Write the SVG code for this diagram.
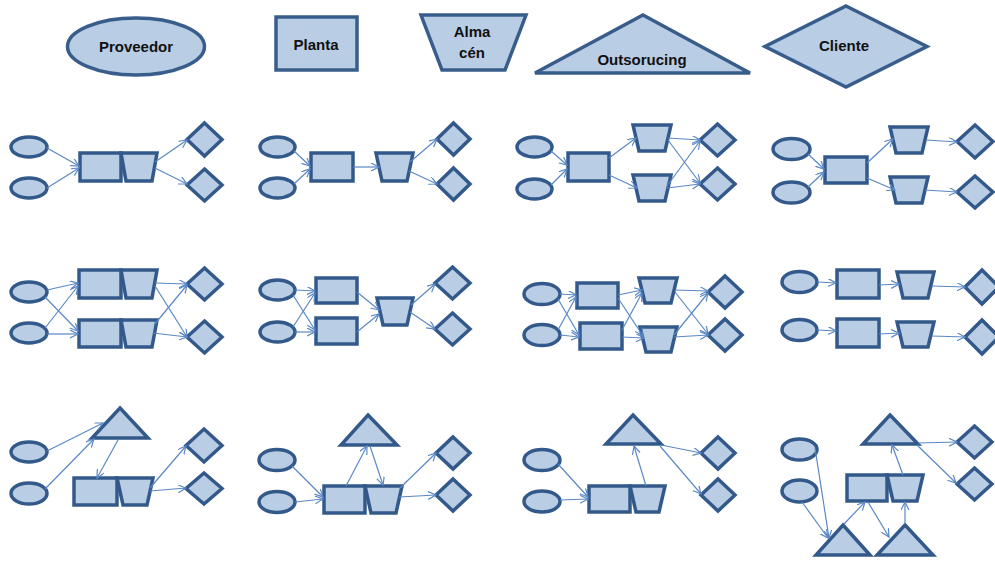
<svg xmlns="http://www.w3.org/2000/svg" width="995" height="561" viewBox="0 0 995 561">
<style>
.s{fill:#b9cde5;stroke:#33598a;stroke-width:3.5;stroke-linejoin:miter}
.L{fill:#b9cde5;stroke:#385d8a;stroke-width:3.5}
.t{font-family:"Liberation Sans",Arial,sans-serif;font-weight:bold;font-size:15px;fill:#111;text-anchor:middle}
.c line{stroke:#5a88c6;stroke-width:1.2;marker-end:url(#a)}
</style>
<defs>
<marker id="a" markerWidth="10" markerHeight="10" refX="8" refY="4" orient="auto" markerUnits="userSpaceOnUse"><path d="M0,0 L8,4 L0,8" fill="none" stroke="#5a88c6" stroke-width="1.2"/></marker>
</defs>
<rect width="995" height="561" fill="#fff"/>

<!-- Legend -->
<g id="leg-proveedor"><ellipse class="L" cx="136" cy="46.5" rx="68.5" ry="28.5"/><text class="t" x="136" y="52">Proveedor</text></g>
<g id="leg-planta"><rect class="L" x="276" y="17" width="81" height="53"/><text class="t" x="316" y="50">Planta</text></g>
<g id="leg-almacen"><polygon class="L" points="421,15 526,15 505,70 442,70"/><text class="t" x="472" y="37">Alma</text><text class="t" x="472" y="58">cén</text></g>
<g id="leg-outsourcing"><polygon class="L" points="643,15 750,73 535,73"/><text class="t" x="642" y="65">Outsorucing</text></g>
<g id="leg-cliente"><polygon class="L" points="846,6 927,46.5 846,87 765,46.5"/><text class="t" x="844" y="51">Cliente</text></g>

<!-- D1 -->
<g id="d1-p1"><ellipse class="s" cx="29" cy="147" rx="18" ry="10"/></g>
<g id="d1-p2"><ellipse class="s" cx="29" cy="188" rx="18" ry="10"/></g>
<g id="d1-pl"><rect class="s" x="80" y="153" width="41" height="28"/></g>
<g id="d1-al"><polygon class="s" points="121,153 157,153 152,181 126,181"/></g>
<g id="d1-c1"><polygon class="s" points="204.5,123 222,139.5 204.5,156 187,139.5"/></g>
<g id="d1-c2"><polygon class="s" points="204.5,169 222,185 204.5,201 187,185"/></g>

<!-- D2 -->
<g id="d2-p1"><ellipse class="s" cx="277.5" cy="147" rx="17.5" ry="10"/></g>
<g id="d2-p2"><ellipse class="s" cx="277.5" cy="188" rx="17.5" ry="10"/></g>
<g id="d2-pl"><rect class="s" x="311" y="153" width="42" height="28"/></g>
<g id="d2-al"><polygon class="s" points="376,153 413,153 407,181 382,181"/></g>
<g id="d2-c1"><polygon class="s" points="453.5,123 470,139 453.5,155 437,139"/></g>
<g id="d2-c2"><polygon class="s" points="453.5,168 470,184 453.5,200 437,184"/></g>

<!-- D3 -->
<g id="d3-p1"><ellipse class="s" cx="534.5" cy="147" rx="17.5" ry="10"/></g>
<g id="d3-p2"><ellipse class="s" cx="534.5" cy="189" rx="17.5" ry="10"/></g>
<g id="d3-pl"><rect class="s" x="568" y="153" width="41" height="28"/></g>
<g id="d3-a1"><polygon class="s" points="633,125 671,125 665,151 639,151"/></g>
<g id="d3-a2"><polygon class="s" points="633,175 671,175 665,201 639,201"/></g>
<g id="d3-c1"><polygon class="s" points="717.5,124 735,140 717.5,156 700,140"/></g>
<g id="d3-c2"><polygon class="s" points="717.5,168 735,184 717.5,200 700,184"/></g>

<!-- D4 -->
<g id="d4-p1"><ellipse class="s" cx="791.5" cy="149" rx="18.5" ry="10.5"/></g>
<g id="d4-p2"><ellipse class="s" cx="791.5" cy="192.5" rx="18.5" ry="10.5"/></g>
<g id="d4-pl"><rect class="s" x="825" y="157" width="42" height="26"/></g>
<g id="d4-a1"><polygon class="s" points="890,127 928,127 922,153 896,153"/></g>
<g id="d4-a2"><polygon class="s" points="890,177 928,177 922,203 896,203"/></g>
<g id="d4-c1"><polygon class="s" points="975,125 993,141.5 975,158 957,141.5"/></g>
<g id="d4-c2"><polygon class="s" points="975,176 993,192 975,208 957,192"/></g>

<!-- D5 -->
<g id="d5-p1"><ellipse class="s" cx="29" cy="292" rx="18" ry="10"/></g>
<g id="d5-p2"><ellipse class="s" cx="29" cy="333" rx="18" ry="10"/></g>
<g id="d5-pl1"><rect class="s" x="79" y="270" width="42" height="28"/></g>
<g id="d5-al1"><polygon class="s" points="121,270 157,270 152,298 126,298"/></g>
<g id="d5-pl2"><rect class="s" x="79" y="320" width="42" height="27"/></g>
<g id="d5-al2"><polygon class="s" points="121,320 157,320 152,347 126,347"/></g>
<g id="d5-c1"><polygon class="s" points="204.5,268 222,284 204.5,300 187,284"/></g>
<g id="d5-c2"><polygon class="s" points="204.5,321 222,337 204.5,353 187,337"/></g>

<!-- D6 -->
<g id="d6-p1"><ellipse class="s" cx="277.5" cy="290" rx="17.5" ry="10"/></g>
<g id="d6-p2"><ellipse class="s" cx="277.5" cy="332" rx="17.5" ry="10"/></g>
<g id="d6-pl1"><rect class="s" x="316" y="278" width="41" height="25"/></g>
<g id="d6-pl2"><rect class="s" x="316" y="318" width="41" height="26"/></g>
<g id="d6-al"><polygon class="s" points="377,298 413,298 407,325 383,325"/></g>
<g id="d6-c1"><polygon class="s" points="452.5,267 470,283 452.5,299 435,283"/></g>
<g id="d6-c2"><polygon class="s" points="452.5,313 470,329 452.5,345 435,329"/></g>

<!-- D7 -->
<g id="d7-p1"><ellipse class="s" cx="542" cy="294" rx="18" ry="10.5"/></g>
<g id="d7-p2"><ellipse class="s" cx="542" cy="335" rx="18" ry="10.5"/></g>
<g id="d7-pl1"><rect class="s" x="577" y="283" width="41" height="25"/></g>
<g id="d7-pl2"><rect class="s" x="580" y="323" width="42" height="26"/></g>
<g id="d7-a1"><polygon class="s" points="639,278 677,278 671,303 645,303"/></g>
<g id="d7-a2"><polygon class="s" points="640,327 677,327 671,352 646,352"/></g>
<g id="d7-c1"><polygon class="s" points="725,276 742,292 725,308 708,292"/></g>
<g id="d7-c2"><polygon class="s" points="725,319 742,335 725,351 708,335"/></g>

<!-- D8 -->
<g id="d8-p1"><ellipse class="s" cx="799.5" cy="282" rx="17.5" ry="10.5"/></g>
<g id="d8-p2"><ellipse class="s" cx="799.5" cy="330" rx="17.5" ry="10.5"/></g>
<g id="d8-pl1"><rect class="s" x="837" y="270" width="42" height="28"/></g>
<g id="d8-pl2"><rect class="s" x="837" y="319" width="42" height="28"/></g>
<g id="d8-a1"><polygon class="s" points="897,272 934,272 928,298 903,298"/></g>
<g id="d8-a2"><polygon class="s" points="897,322 934,322 928,347 903,347"/></g>
<g id="d8-c1"><polygon class="s" points="982,270 999,287 982,304 965,287"/></g>
<g id="d8-c2"><polygon class="s" points="982,320 999,337 982,354 965,337"/></g>

<!-- D9 -->
<g id="d9-p1"><ellipse class="s" cx="29" cy="452" rx="18" ry="10"/></g>
<g id="d9-p2"><ellipse class="s" cx="29" cy="493.5" rx="18" ry="10.5"/></g>
<g id="d9-out"><polygon class="s" points="120,408 148,438 92,438"/></g>
<g id="d9-pl"><rect class="s" x="74" y="478" width="43" height="27"/></g>
<g id="d9-al"><polygon class="s" points="117,478 153,478 147,505 123,505"/></g>
<g id="d9-c1"><polygon class="s" points="204,429 222,445.5 204,462 186,445.5"/></g>
<g id="d9-c2"><polygon class="s" points="204,473 222,488.5 204,504 186,488.5"/></g>

<!-- D10 -->
<g id="d10-p1"><ellipse class="s" cx="277" cy="460" rx="18" ry="10.5"/></g>
<g id="d10-p2"><ellipse class="s" cx="277" cy="502" rx="18" ry="10.5"/></g>
<g id="d10-out"><polygon class="s" points="368,415 397,445 341,445"/></g>
<g id="d10-pl"><rect class="s" x="324" y="486" width="41" height="27"/></g>
<g id="d10-al"><polygon class="s" points="365,486 402,486 396,513 371,513"/></g>
<g id="d10-c1"><polygon class="s" points="453,437 470,453 453,469 436,453"/></g>
<g id="d10-c2"><polygon class="s" points="453,479 470,495 453,511 436,495"/></g>

<!-- D11 -->
<g id="d11-p1"><ellipse class="s" cx="542" cy="460" rx="18" ry="10.5"/></g>
<g id="d11-p2"><ellipse class="s" cx="542" cy="501.5" rx="18" ry="10.5"/></g>
<g id="d11-out"><polygon class="s" points="633,415 661,444 606,444"/></g>
<g id="d11-pl"><rect class="s" x="589" y="486" width="41" height="26"/></g>
<g id="d11-al"><polygon class="s" points="630,486 665,486 659,512 636,512"/></g>
<g id="d11-c1"><polygon class="s" points="718,437 735,453 718,469 701,453"/></g>
<g id="d11-c2"><polygon class="s" points="718,479 735,495 718,511 701,495"/></g>

<!-- D12 -->
<g id="d12-p1"><ellipse class="s" cx="799.5" cy="449.5" rx="17.5" ry="10.5"/></g>
<g id="d12-p2"><ellipse class="s" cx="799.5" cy="491" rx="17.5" ry="11"/></g>
<g id="d12-out1"><polygon class="s" points="890,415 918,444 863,444"/></g>
<g id="d12-pl"><rect class="s" x="847" y="475" width="40" height="26"/></g>
<g id="d12-al"><polygon class="s" points="887,475 923,475 917,501 893,501"/></g>
<g id="d12-out2"><polygon class="s" points="843,525 870,555 816,555"/></g>
<g id="d12-out3"><polygon class="s" points="905,525 933,555 877,555"/></g>
<g id="d12-c1"><polygon class="s" points="974.5,426 992,442 974.5,458 957,442"/></g>
<g id="d12-c2"><polygon class="s" points="974.5,468 992,484 974.5,500 957,484"/></g>

<g id="connectors" class="c">
<!-- D1 -->
<line x1="47" y1="148" x2="79" y2="166"/>
<line x1="47" y1="188" x2="79" y2="168"/>
<line x1="155" y1="162" x2="187" y2="140"/>
<line x1="155" y1="168" x2="187" y2="184"/>
<!-- D2 -->
<line x1="294" y1="151" x2="310" y2="166"/>
<line x1="294" y1="184" x2="310" y2="169"/>
<line x1="353" y1="167" x2="379" y2="167"/>
<line x1="410" y1="162" x2="437" y2="139"/>
<line x1="409" y1="171" x2="437" y2="184"/>
<!-- D3 -->
<line x1="551" y1="151" x2="567" y2="165"/>
<line x1="551" y1="185" x2="567" y2="169"/>
<line x1="609" y1="158" x2="636" y2="138"/>
<line x1="609" y1="175" x2="637" y2="188"/>
<line x1="668" y1="138" x2="700" y2="140"/>
<line x1="668" y1="140" x2="700" y2="183"/>
<line x1="667" y1="186" x2="700" y2="141"/>
<line x1="667" y1="188" x2="700" y2="184"/>
<!-- D4 -->
<line x1="808" y1="154" x2="824" y2="169"/>
<line x1="808" y1="187" x2="824" y2="172"/>
<line x1="867" y1="163" x2="893" y2="139"/>
<line x1="867" y1="178" x2="895" y2="190"/>
<line x1="926" y1="140" x2="957" y2="142"/>
<line x1="925" y1="190" x2="957" y2="192"/>
<!-- D5 -->
<line x1="47" y1="290" x2="78" y2="283"/>
<line x1="45" y1="297" x2="78" y2="331"/>
<line x1="45" y1="328" x2="78" y2="286"/>
<line x1="47" y1="334" x2="78" y2="334"/>
<line x1="155" y1="283" x2="187" y2="284"/>
<line x1="155" y1="286" x2="187" y2="337"/>
<line x1="154" y1="325" x2="187" y2="285"/>
<line x1="153" y1="333" x2="187" y2="337"/>
<!-- D6 -->
<line x1="295" y1="290" x2="315" y2="291"/>
<line x1="293" y1="295" x2="315" y2="330"/>
<line x1="293" y1="327" x2="315" y2="293"/>
<line x1="295" y1="332" x2="315" y2="332"/>
<line x1="357" y1="292" x2="379" y2="310"/>
<line x1="357" y1="332" x2="379" y2="314"/>
<line x1="411" y1="305" x2="435" y2="284"/>
<line x1="410" y1="312" x2="435" y2="329"/>
<!-- D7 -->
<line x1="560" y1="294" x2="576" y2="295"/>
<line x1="558" y1="299" x2="579" y2="335"/>
<line x1="558" y1="330" x2="576" y2="297"/>
<line x1="560" y1="335" x2="579" y2="337"/>
<line x1="618" y1="295" x2="642" y2="290"/>
<line x1="618" y1="298" x2="643" y2="336"/>
<line x1="622" y1="330" x2="642" y2="293"/>
<line x1="622" y1="337" x2="644" y2="338"/>
<line x1="675" y1="290" x2="708" y2="291"/>
<line x1="675" y1="292" x2="708" y2="334"/>
<line x1="674" y1="335" x2="708" y2="293"/>
<line x1="674" y1="337" x2="708" y2="335"/>
<!-- D8 -->
<line x1="817" y1="282" x2="836" y2="283"/>
<line x1="817" y1="330" x2="836" y2="331"/>
<line x1="879" y1="285" x2="899" y2="284"/>
<line x1="879" y1="334" x2="899" y2="333"/>
<line x1="932" y1="286" x2="965" y2="287"/>
<line x1="932" y1="336" x2="965" y2="337"/>
<!-- D9 -->
<line x1="47" y1="451" x2="103" y2="423"/>
<line x1="45" y1="489" x2="94" y2="439"/>
<line x1="118" y1="440" x2="97" y2="478"/>
<line x1="150" y1="488" x2="186" y2="446"/>
<line x1="150" y1="491" x2="186" y2="488"/>
<!-- D10 -->
<line x1="292" y1="466" x2="323" y2="497"/>
<line x1="295" y1="502" x2="323" y2="499"/>
<line x1="346" y1="486" x2="367" y2="446"/>
<line x1="370" y1="446" x2="383" y2="485"/>
<line x1="400" y1="488" x2="436" y2="453"/>
<line x1="399" y1="497" x2="436" y2="495"/>
<!-- D11 -->
<line x1="558" y1="464" x2="588" y2="497"/>
<line x1="560" y1="500" x2="588" y2="499"/>
<line x1="646" y1="486" x2="634" y2="446"/>
<line x1="661" y1="445" x2="701" y2="453"/>
<line x1="660" y1="446" x2="701" y2="494"/>
<!-- D12 -->
<line x1="815" y1="448" x2="829" y2="538"/>
<line x1="802" y1="502" x2="828" y2="538"/>
<line x1="844" y1="524" x2="865" y2="502"/>
<line x1="868" y1="502" x2="889" y2="537"/>
<line x1="905" y1="524" x2="905" y2="502"/>
<line x1="903" y1="475" x2="892" y2="445"/>
<line x1="918" y1="443" x2="957" y2="442"/>
<line x1="917" y1="445" x2="956" y2="483"/>
</g>
</svg>
